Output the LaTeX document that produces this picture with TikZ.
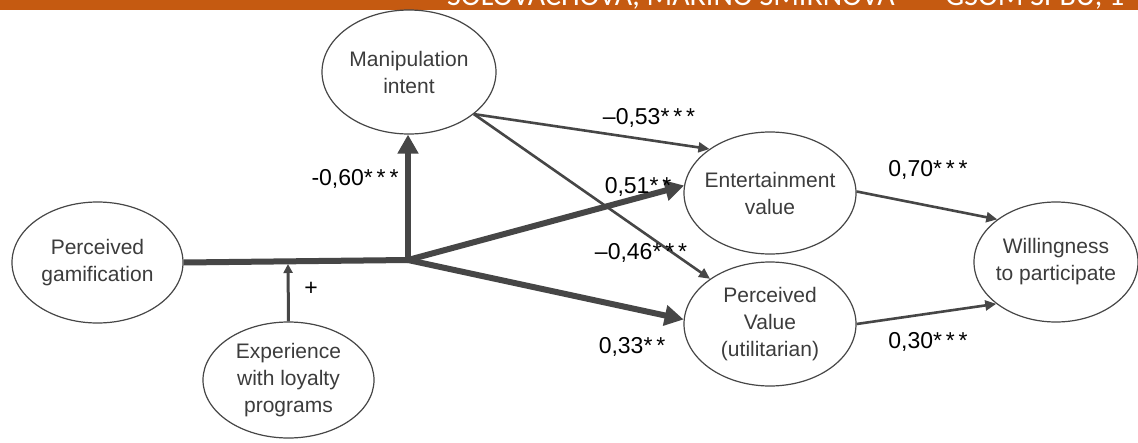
\documentclass[tikz,border=0pt]{standalone}
\usepackage{fontspec}
\setmainfont{Liberation Sans}
\newfontfamily\bannerfont{Carlito}
\usetikzlibrary{arrows.meta,shapes.geometric}
\definecolor{bannerc}{RGB}{197,90,17}
\definecolor{edgec}{RGB}{70,70,70}
\definecolor{eltext}{RGB}{60,60,60}
\begin{document}
\begin{tikzpicture}[x=1pt,y=-1pt,
  el/.style={ellipse,draw=edgec,line width=1.2pt,inner sep=-40pt,
    font=\fontsize{21}{27}\selectfont,text=eltext,align=center},
  lab/.style={font=\fontsize{23}{23}\selectfont,inner sep=0pt,text=black},
  thickline/.style={draw=edgec,line width=6pt},
  thickarrow/.style={draw=edgec,line width=6pt,line cap=round,-{Triangle[length=19pt,width=20pt]}},
  thinarrow/.style={draw=edgec,line width=2.6pt,-{Triangle[length=11pt,width=10pt]}},
  modarrow/.style={draw=edgec,line width=3pt,-{Triangle[length=9pt,width=9pt]}}
]
\useasboundingbox (0,0) rectangle (1138,442);
\fill[white] (0,0) rectangle (1138,442);
\begin{scope}
  \clip (0,0) rectangle (1138,10);
  \fill[bannerc] (0,0) rectangle (1138,10);
  \node[anchor=base west,text=white,inner sep=0pt,
    font=\bannerfont\fontsize{30}{30}\selectfont] (bt) at (447,5)
    {SOLOVACHOVA, MARINO SMIRNOVA \,—\, GSOM SPBU, 1};
\end{scope}

\node[el,minimum width=171,minimum height=121] (pg)  at (97.5,262.5) {Perceived\\gamification};
\node[el,minimum width=171,minimum height=116] (exp) at (288.5,380) {Experience\\with loyalty\\programs};
\node[el,minimum width=174,minimum height=124] (mi)  at (409,72) {Manipulation\\intent};
\node[el,minimum width=172,minimum height=122] (ent) at (770,193) {Entertainment\\value};
\node[el,minimum width=172,minimum height=124] (pv)  at (770,324) {Perceived\\Value\\(utilitarian)};
\node[el,minimum width=164,minimum height=120] (wil) at (1056,262) {Willingness\\to participate};

\coordinate (J) at (408,260);
\coordinate (M) at (288,264);
\coordinate (ms) at (mi.-33);

\draw[thickline] (pg.east) -- (J);
\draw[thickarrow] (J) -- (J |- mi.south);
\draw[thickarrow] (J) -- (ent.175);
\draw[thickarrow] (J) -- (pv.177);
\draw[modarrow] (exp.north) -- (M);
\draw[thinarrow] (ms) -- (ent.144);
\draw[thinarrow] (ms) -- (pv.143);
\draw[thinarrow] (ent.1) -- (wil.144);
\draw[thinarrow] (pv.east) -- (wil.215);

\node[lab] (l60) at (355,179) {-0,60*\,*\,*};
\node[lab] (l53) at (649,118) {–0,53*\,*\,*};
\node[lab] (l51) at (638,187) {0,51*\,*};
\node[lab] (l46) at (641,253) {–0,46*\,*\,*};
\node[lab] (l33) at (632,347) {0,33*\,*};
\node[lab] (l70) at (928,170) {0,70*\,*\,*};
\node[lab] (l30) at (928,342) {0,30*\,*\,*};
\node[lab] (lp)  at (311,289) {+};
\end{tikzpicture}
\end{document}
